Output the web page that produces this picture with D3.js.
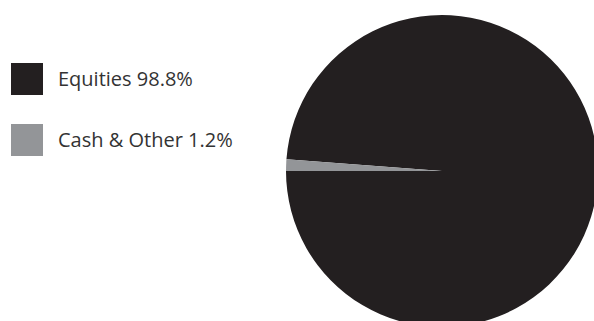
<!DOCTYPE html>
<html>
<head>
<meta charset="utf-8">
<script src="https://cdn.jsdelivr.net/npm/d3@7"></script>
<style>
  body { margin: 0; background: #fff; }
  svg { display: block; }
</style>
</head>
<body>
<svg id="chart" width="594" height="321"></svg>
<script>
let categories = ["Equities", "Cash & Other"];
let values = [98.8, 1.2];
let colors = ["#231f20", "#939598"];

let width = 594, height = 321;
let cx = 442, cy = 171, radius = 156;

let svg = d3.select("#chart");

let color = d3.scaleOrdinal()
    .domain(categories)
    .range(colors);

// cash slice sits just above the 9 o'clock line
let start = -Math.PI / 2 + 2 * Math.PI * values[1] / 100;
let pie = d3.pie()
    .sort(null)
    .value(function (d) { return d.value; })
    .startAngle(start)
    .endAngle(start + 2 * Math.PI);

let arc = d3.arc()
    .innerRadius(0)
    .outerRadius(radius);

let data = categories.map(function (c, i) {
    return {name: c, value: values[i]};
});

svg.append("g")
    .attr("transform", "translate(" + cx + "," + cy + ")")
    .selectAll("path")
    .data(pie(data))
    .enter().append("path")
    .attr("d", arc)
    .style("fill", function (d) { return color(d.data.name); });

// Legend
let legend = svg.selectAll(".legend")
    .data(data)
    .enter().append("g")
    .attr("class", "legend")
    .attr("transform", function (d, i) {
        return "translate(11," + (63 + i * 61) + ")";
    });

legend.append("rect")
    .attr("width", 32)
    .attr("height", 32)
    .style("fill", function (d) { return color(d.name); });

legend.append("text")
    .attr("x", 47)
    .attr("y", 23)
    .style("font-family", "'Open Sans', sans-serif")
    .style("font-size", "20px")
    .style("fill", "#333333")
    .text(function (d) { return d.name + " " + d.value + "%"; });
</script>
</body>
</html>
